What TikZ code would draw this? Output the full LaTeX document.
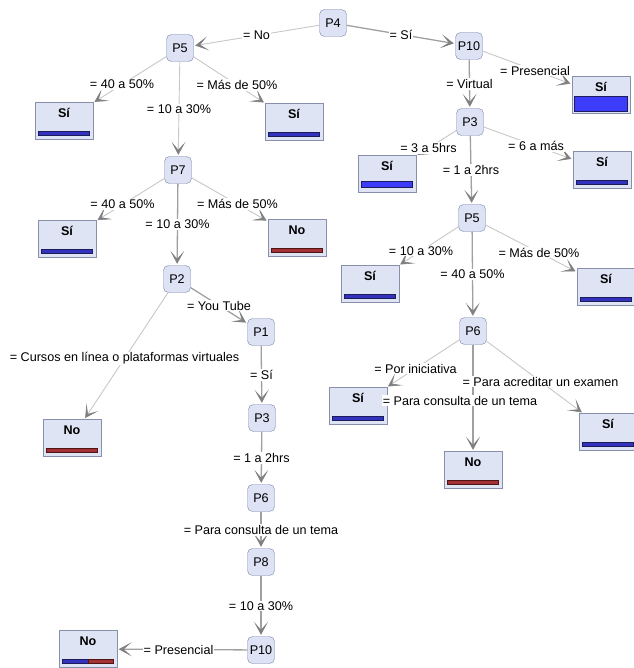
\documentclass[tikz,border=0pt]{standalone}
\usepackage{fontspec}
\setmainfont{Liberation Sans}
\usetikzlibrary{arrows.meta}
\definecolor{cNode}{RGB}{221,227,245}
\definecolor{cNodeLine}{RGB}{120,132,170}
\definecolor{cLeaf}{RGB}{223,228,245}
\definecolor{cLeafLine}{RGB}{135,143,170}
\definecolor{cEdgeLight}{RGB}{200,200,200}
\definecolor{cEdgeDark}{RGB}{160,160,160}
\definecolor{cArrow}{RGB}{128,128,128}
\definecolor{cBlue}{RGB}{50,50,190}
\definecolor{cBlueHi}{RGB}{60,60,250}
\definecolor{cNavy}{RGB}{28,28,90}
\definecolor{cRed}{RGB}{165,50,50}
\definecolor{cMaroon}{RGB}{80,20,20}
\tikzset{
	quest/.style    ={rectangle, rounded corners=5pt, draw=cNodeLine, fill=cNode, minimum width=27pt, minimum height=27pt, inner sep=2pt},
	leaf/.style     ={rectangle, draw=cLeafLine, fill=cLeaf, minimum width=58pt, text height=12pt, text depth=19pt, inner ysep=3pt, font=\bfseries},
	edgelight/.style={draw=cEdgeLight, line width=0.9pt, -{Stealth[length=13pt, width=14pt, inset=8pt, line width=0.6pt, color=cArrow]}, shorten >=1.5pt},
	edgedark/.style ={draw=cEdgeDark, line width=1.3pt, -{Stealth[length=13pt, width=14pt, inset=8pt, line width=0.6pt, color=cArrow]}, shorten >=1.5pt},
	lbl/.style      ={fill=white, inner sep=1pt},
	barsi/.style    ={draw=cNavy, fill=cBlue, line width=0.8pt},
	barhi/.style    ={draw=cNavy, fill=cBlueHi, line width=0.8pt},
	barno/.style    ={draw=cMaroon, fill=cRed, line width=0.8pt},
}
\begin{document}
\begin{tikzpicture}[x=1pt, y=-1pt, node font=\fontsize{12.6}{14}\selectfont]
	\fill[white] (0,0) rectangle (633,668);
	\useasboundingbox (0,0) rectangle (633,668);
	% question nodes
	\node[quest] (p4) at (333,23) {P4};
	\node[quest] (p5a) at (180,48) {P5};
	\node[quest] (p10a) at (469,46) {P10};
	\node[quest] (p3a) at (470,122) {P3};
	\node[quest] (p5b) at (472,218) {P5};
	\node[quest] (p6a) at (473,331) {P6};
	\node[quest] (p7) at (178,170) {P7};
	\node[quest] (p2) at (177,279) {P2};
	\node[quest] (p1) at (261,332) {P1};
	\node[quest] (p3b) at (262,418) {P3};
	\node[quest] (p6b) at (261,498) {P6};
	\node[quest] (p8) at (261,562) {P8};
	\node[quest] (p10b) at (261,650) {P10};
	% leaves
	\node[leaf] (si1) at (64,121) {Sí};
	\node[leaf] (si2) at (294,122) {Sí};
	\node[leaf] (si3) at (67,239) {Sí};
	\node[leaf] (no1) at (297,238) {No};
	\node[leaf] (no2) at (72,438) {No};
	\node[leaf] (no3) at (88,649) {No};
	\node[leaf] (si4) at (601,95) {Sí};
	\node[leaf] (si5) at (387,174) {Sí};
	\node[leaf] (si6) at (602,170) {Sí};
	\node[leaf] (si7) at (370,284) {Sí};
	\node[leaf] (si8) at (606,287) {Sí};
	\node[leaf] (si9) at (358,406) {Sí};
	\node[leaf] (si10) at (608,432) {Sí};
	\node[leaf] (no4) at (473,470) {No};
	% class bars
	\foreach \n/\b in {si1/barsi, si2/barsi, si3/barsi, no1/barno, no2/barno, si6/barsi, si7/barsi, si8/barsi, si9/barsi, si10/barsi, no4/barno}
		\draw[\b] ([shift={(4pt,4pt)}]\n.south west) rectangle ([shift={(-4pt,8pt)}]\n.south east);
	\draw[barhi] ([shift={(3pt,2pt)}]si4.south west) rectangle ([shift={(-3pt,17pt)}]si4.south east);
	\draw[barhi] ([shift={(4pt,5pt)}]si5.south west) rectangle ([shift={(-4pt,11pt)}]si5.south east);
	\draw[barsi] ([shift={(4pt,4pt)}]no3.south west) rectangle ([shift={(0pt,8pt)}]no3.south);
	\draw[barno] ([shift={(0pt,4pt)}]no3.south) rectangle ([shift={(-4pt,8pt)}]no3.south east);
	% edges with their labels
	\foreach \a/\b/\t/\s/\o in {
		p4/p5a/{= No}/edgelight/0pt, p4/p10a/{= Sí}/edgedark/0pt,
		p5a/si1/{= 40 a 50\%}/edgelight/0pt, p5a/p7/{= 10 a 30\%}/edgelight/0pt, p5a/si2/{= Más de 50\%}/edgelight/0pt,
		p7/si3/{= 40 a 50\%}/edgelight/0pt, p7/p2/{= 10 a 30\%}/edgedark/0pt, p7/no1/{= Más de 50\%}/edgelight/0pt,
		p2/no2/{= Cursos en línea o plataformas virtuales}/edgelight/0pt, p2/p1/{= You Tube}/edgedark/0pt,
		p1/p3b/{= Sí}/edgedark/0pt, p3b/p6b/{= 1 a 2hrs}/edgedark/0pt, p6b/p8/{= Para consulta de un tema}/edgedark/0pt,
		p8/p10b/{= 10 a 30\%}/edgedark/0pt, p10b/no3/{= Presencial}/edgedark/4pt,
		p10a/si4/{= Presencial}/edgelight/0pt, p10a/p3a/{= Virtual}/edgedark/0pt,
		p3a/si5/{= 3 a 5hrs}/edgelight/0pt, p3a/p5b/{= 1 a 2hrs}/edgedark/0pt, p3a/si6/{= 6 a más}/edgelight/0pt,
		p5b/si7/{= 10 a 30\%}/edgelight/0pt, p5b/p6a/{= 40 a 50\%}/edgedark/0pt, p5b/si8/{= Más de 50\%}/edgelight/0pt,
		p6a/si9/{= Por iniciativa}/edgelight/0pt, p6a/no4/{= Para consulta de un tema}/edgedark/-13pt,
		p6a/si10/{= Para acreditar un examen}/edgelight/0pt} {
		\draw[\s] (\a) -- (\b);
		\path (\a.center) -- node[lbl, xshift=\o] {\t} (\b.center);
	}
\end{tikzpicture}
\end{document}
